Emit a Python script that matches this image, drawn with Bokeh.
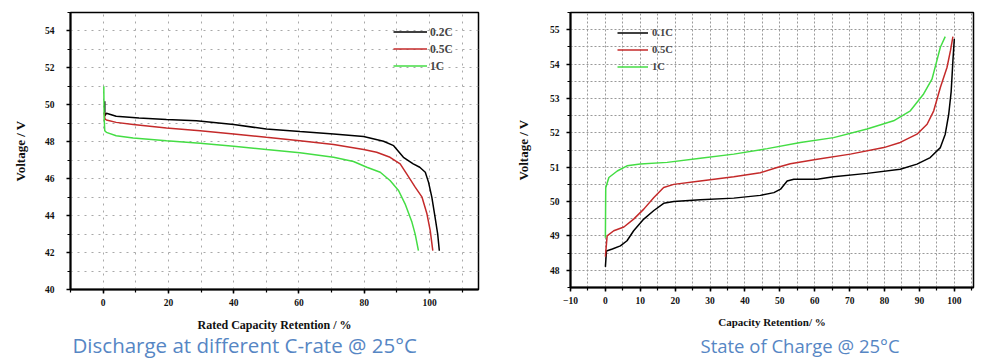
from bokeh.plotting import figure
from bokeh.layouts import row
from bokeh.models import SingleIntervalTicker, Legend, LegendItem, Title
from bokeh.embed import file_html
from bokeh.resources import INLINE

# ---------------- Data: discharge (left) ----------------
d02_x = [0.5, 0.5, 1.0, 4.0, 11.0, 19.4, 28.6, 40.0, 50.0, 60.3, 70.6, 79.8, 85.9, 89.0, 92.0, 95.0, 97.0, 98.7, 99.7, 100.7, 101.7, 102.5, 103.0]
d02_y = [50.2, 49.4, 49.54, 49.38, 49.29, 49.21, 49.14, 48.93, 48.69, 48.55, 48.42, 48.28, 48.03, 47.79, 47.16, 46.8, 46.62, 46.35, 45.8, 45.0, 43.9, 43.0, 42.1]
d05_x = [0.4, 0.5, 1.0, 4.0, 9.2, 19.4, 29.7, 40.0, 50.0, 60.3, 70.6, 79.8, 83.8, 87.9, 91.0, 93.0, 95.6, 97.7, 99.2, 100.2, 101.0]
d05_y = [49.6, 49.25, 49.18, 49.05, 48.93, 48.75, 48.6, 48.42, 48.24, 48.06, 47.85, 47.58, 47.43, 47.16, 46.8, 46.26, 45.54, 45.0, 44.1, 43.2, 42.1]
d1_x = [0.2, 0.3, 0.5, 1.0, 4.0, 9.2, 19.4, 29.7, 40.0, 50.0, 60.3, 70.6, 76.7, 80.8, 84.9, 87.9, 90.5, 92.5, 94.6, 95.6, 96.6]
d1_y = [51.0, 49.3, 48.6, 48.51, 48.33, 48.2, 48.06, 47.92, 47.76, 47.58, 47.4, 47.16, 46.93, 46.62, 46.35, 45.9, 45.36, 44.64, 43.65, 43.0, 42.1]

# ---------------- Data: charge (right) ----------------
c01_x = [0.0, 0.3, 2.0, 4.3, 6.2, 8.1, 11.0, 13.9, 16.7, 19.6, 27.2, 36.8, 44.4, 48.3, 50.2, 52.1, 54.0, 60.7, 65.4, 75.0, 84.5, 89.3, 93.1, 96.0, 97.4, 98.4, 99.1, 99.6, 100.0]
c01_y = [48.1, 48.56, 48.62, 48.71, 48.86, 49.15, 49.49, 49.74, 49.95, 50.0, 50.05, 50.1, 50.18, 50.26, 50.36, 50.6, 50.65, 50.65, 50.72, 50.82, 50.94, 51.09, 51.28, 51.57, 51.96, 52.54, 53.2, 54.1, 54.73]
c05_x = [0.0, 0.5, 2.4, 5.3, 8.1, 11.0, 13.9, 16.7, 19.6, 27.2, 36.8, 44.4, 49.2, 53.0, 60.7, 70.2, 79.8, 84.5, 89.3, 92.2, 94.1, 96.0, 97.9, 98.9, 99.6]
c05_y = [48.4, 49.0, 49.15, 49.26, 49.49, 49.78, 50.12, 50.41, 50.5, 50.6, 50.72, 50.84, 50.99, 51.1, 51.23, 51.38, 51.57, 51.72, 51.96, 52.25, 52.64, 53.32, 53.9, 54.39, 54.8]
c1_x = [0.0, 0.1, 1.0, 3.4, 6.2, 10.0, 17.7, 27.2, 36.8, 46.4, 55.9, 65.4, 75.0, 82.6, 87.4, 91.2, 93.6, 95.0, 96.0, 97.4]
c1_y = [48.95, 50.4, 50.7, 50.89, 51.04, 51.09, 51.14, 51.26, 51.38, 51.54, 51.72, 51.86, 52.11, 52.35, 52.64, 53.13, 53.56, 54.1, 54.49, 54.8]

left_labels = ["0.2C", "0.5C", "1C"]
right_labels = ["0.1C", "0.5C", "1C"]
colors = ["#000000", "#c42a2a", "#44dd44"]

SERIF = "Liberation Serif"
CAP_COLOR = "#5686c4"


def style(p, xint, xminor, yint, yminor, xgrid, ygrid, grid_dash, grid_color):
    p.xaxis.ticker = SingleIntervalTicker(interval=xint, num_minor_ticks=xminor)
    p.yaxis.ticker = SingleIntervalTicker(interval=yint, num_minor_ticks=yminor)
    p.xgrid.ticker = SingleIntervalTicker(interval=xgrid)
    p.ygrid.ticker = SingleIntervalTicker(interval=ygrid)
    for g in (p.xgrid, p.ygrid):
        g.grid_line_color = grid_color
        g.grid_line_dash = grid_dash
        g.grid_line_width = 1
        g.grid_line_alpha = 1
    for ax in (p.xaxis, p.yaxis):
        ax.axis_line_width = 2
        ax.axis_line_color = "black"
        ax.major_tick_line_width = 1.5
        ax.minor_tick_line_width = 1.2
        ax.major_tick_line_color = "black"
        ax.minor_tick_line_color = "black"
        ax.major_tick_in = 0
        ax.major_tick_out = 4
        ax.minor_tick_in = 0
        ax.minor_tick_out = 3
        ax.major_label_text_font = SERIF
        ax.major_label_text_font_style = "bold"
        ax.major_label_text_font_size = "9.5px"
        ax.major_label_text_color = "#111111"
        ax.axis_label_text_font = SERIF
        ax.axis_label_text_font_style = "bold"
        ax.axis_label_text_color = "#111111"
    p.yaxis.axis_label_text_font_size = "13px"
    p.outline_line_color = "black"
    p.outline_line_width = 1.5
    p.outline_line_alpha = 1
    p.background_fill_color = "white"
    p.border_fill_color = "white"


# ---------------- Left figure ----------------
pl = figure(frame_width=408, frame_height=277, min_border_left=70, min_border_right=22,
            min_border_top=12, min_border_bottom=71,
            x_range=(-10, 115), y_range=(40, 55),
            output_backend="svg", toolbar_location=None)
style(pl, 20, 2, 2, 2, 10, 1, "2 5", "#a8a8a8")
pl.xaxis.axis_label = "Rated Capacity Retention / %"
pl.yaxis.axis_label = "Voltage / V"
pl.xaxis.axis_label_text_font_size = "12px"
pl.xaxis.major_label_standoff = 5
pl.yaxis.major_label_standoff = 12
pl.xaxis.axis_label_standoff = 9
pl.yaxis.axis_label_standoff = 14

lr = []
for xs, ys, c in zip([d02_x, d05_x, d1_x], [d02_y, d05_y, d1_y], colors):
    lr.append(pl.line(xs, ys, line_color=c, line_width=1.5))
leg_l = Legend(items=[LegendItem(label=l, renderers=[r]) for l, r in zip(left_labels, lr)],
               location=(323, 215), padding=0, spacing=0, margin=0,
               glyph_width=34, glyph_height=17, label_height=17, label_standoff=3,
               label_text_font=SERIF, label_text_font_style="bold", label_text_font_size="11.5px",
               border_line_alpha=0, background_fill_alpha=0)
pl.add_layout(leg_l)
pl.add_layout(Title(text="Discharge at different C-rate @ 25°C", align="left", offset=2,
                    text_font="Open Sans", text_font_style="normal", text_font_size="20.5px",
                    text_color=CAP_COLOR, standoff=-12), "below")

# ---------------- Right figure ----------------
pr = figure(frame_width=403, frame_height=275, min_border_left=70, min_border_right=27,
            min_border_top=12, min_border_bottom=73,
            x_range=(-10, 105.5), y_range=(47.5, 55.5),
            output_backend="svg", toolbar_location=None)
style(pr, 10, 2, 1, 2, 5, 0.5, "2 2", "#999999")
pr.xaxis.axis_label = "Capacity Retention/ %"
pr.yaxis.axis_label = "Voltage / V"
pr.xaxis.axis_label_text_font_size = "11px"
pr.xaxis.major_label_standoff = 5
pr.yaxis.major_label_standoff = 7
pr.xaxis.axis_label_standoff = 9
pr.yaxis.axis_label_standoff = 16

rr = []
for xs, ys, c in zip([c01_x, c05_x, c1_x], [c01_y, c05_y, c1_y], colors):
    rr.append(pr.line(xs, ys, line_color=c, line_width=1.5))
leg_r = Legend(items=[LegendItem(label=l, renderers=[r]) for l, r in zip(right_labels, rr)],
               location=(47, 212), padding=0, spacing=0, margin=0,
               glyph_width=31, glyph_height=17, label_height=17, label_standoff=4,
               label_text_font=SERIF, label_text_font_style="bold", label_text_font_size="10.5px",
               border_line_alpha=0, background_fill_alpha=0)
pr.add_layout(leg_r)
pr.add_layout(Title(text="State of Charge @ 25°C", align="left", offset=130,
                    text_font="Open Sans", text_font_style="normal", text_font_size="18.5px",
                    text_color=CAP_COLOR, standoff=1), "below")

layout = row(pl, pr)
open("out.html", "w").write(file_html(layout, INLINE))
